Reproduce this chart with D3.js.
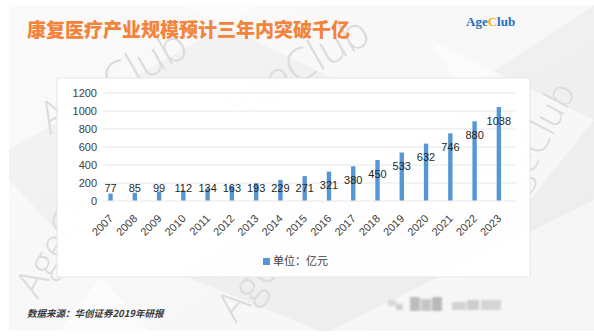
<!DOCTYPE html>
<html>
<head>
<meta charset="utf-8">
<script src="https://cdn.jsdelivr.net/npm/d3@7"></script>
<style>
  html, body { margin: 0; padding: 0; background: #ffffff; }
  svg { display: block; }
</style>
</head>
<body>
<svg id="chart" width="594" height="336"></svg>
<script>
// Rehabilitation market size, 100 million yuan
const years = ["2007","2008","2009","2010","2011","2012","2013","2014","2015",
               "2016","2017","2018","2019","2020","2021","2022","2023"];
const marketSize = [77, 85, 99, 112, 134, 163, 193, 229, 271, 321, 380, 450, 533, 632, 746, 880, 1038];
const yTicks = [0, 200, 400, 600, 800, 1000, 1200];
const titleText = "康复医疗产业规模预计三年内突破千亿";
const legendText = "单位：亿元";
const sourceText = "数据来源：华创证券2019年研报";

const W = 594, H = 336;
const svg = d3.select("#chart");
const defs = svg.append("defs");

// slide background
const bg = defs.append("linearGradient").attr("id", "bgGrad")
  .attr("x1", 0).attr("y1", 0).attr("x2", 1).attr("y2", 1);
bg.append("stop").attr("offset", "0%").attr("stop-color", "#f4f4f4");
bg.append("stop").attr("offset", "100%").attr("stop-color", "#ececec");
defs.append("filter").attr("id", "soft").append("feGaussianBlur").attr("stdDeviation", 1.1);

svg.append("rect").attr("x", 9).attr("y", 5).attr("width", W - 9).attr("height", 326)
  .attr("fill", "url(#bgGrad)");

// pale facets across the slide
const facets = [
  [[9,5],[260,5],[9,150]],
  [[180,5],[594,5],[420,120]],
  [[9,180],[150,331],[9,331]],
  [[330,331],[594,200],[594,331]],
  [[430,40],[594,120],[530,200]],
  [[120,250],[320,331],[60,331]]
];
svg.append("g").selectAll("polygon").data(facets).join("polygon")
  .attr("points", d => d.map(p => p.join(",")).join(" "))
  .attr("fill", "#ffffff").attr("opacity", 0.5);

// brand watermarks
const marks = [
  {x: 50, y: 135, r: -30, s: 44},
  {x: 232, y: 122, r: -30, s: 44},
  {x: 512, y: 212, r: -62, s: 37},
  {x: 38, y: 300, r: -60, s: 40},
  {x: 236, y: 324, r: -50, s: 42}
];
const wm = svg.append("g");
wm.selectAll("text").data(marks).join("text")
  .attr("transform", d => `translate(${d.x},${d.y}) rotate(${d.r})`)
  .attr("font-family", "'Open Sans', 'DejaVu Sans', sans-serif")
  .attr("font-weight", 300)
  .attr("font-size", d => d.s)
  .attr("fill", "#dcdcdc")
  .text("AgeClub");

// title
svg.append("text")
  .attr("x", 27).attr("y", 37)
  .attr("font-family", "'Noto Sans CJK SC', sans-serif")
  .attr("font-weight", 900)
  .attr("font-size", 19)
  .attr("fill", "#f4833b")
  .text(titleText);

// logo
const logo = svg.append("text")
  .attr("x", 466).attr("y", 26)
  .attr("font-family", "'Liberation Serif', 'DejaVu Serif', serif")
  .attr("font-weight", 700)
  .attr("font-size", 13);
logo.append("tspan").attr("fill", "#1f6fbf").text("Age");
logo.append("tspan").attr("fill", "#f5b50a").text("C");
logo.append("tspan").attr("fill", "#1f6fbf").text("lub");

// chart panel
svg.append("rect")
  .attr("x", 57).attr("y", 78).attr("width", 473).attr("height", 199)
  .attr("fill", "#ffffff").attr("fill-opacity", 0.94)
  .attr("stroke", "#e6e6e6").attr("stroke-width", 1);

// scales
const y = d3.scaleLinear().domain([0, 1200]).range([200.5, 92.5]);
const x = d3.scaleBand().domain(years).range([98.4, 511]).paddingInner(0.82).paddingOuter(0.41);

// gridlines via axis
const grid = svg.append("g").attr("transform", "translate(103,0)")
  .call(d3.axisLeft(y).tickValues(yTicks).tickSize(-413).tickFormat(""));
grid.select(".domain").remove();
grid.selectAll(".tick line").attr("stroke", "#e8e8e8").attr("stroke-width", 1);

// y tick labels
const yAxis = svg.append("g").attr("transform", "translate(97,0)")
  .call(d3.axisLeft(y).tickValues(yTicks).tickFormat(d3.format("d")).tickSize(0).tickPadding(0));
yAxis.select(".domain").remove();
yAxis.selectAll("text")
  .attr("font-family", "'Liberation Sans', Arial, sans-serif")
  .attr("font-size", 11).attr("fill", "#404040");

// bars
const data = years.map((yr, i) => ({year: yr, value: marketSize[i]}));
svg.append("g").selectAll("rect").data(data).join("rect")
  .attr("x", d => x(d.year))
  .attr("width", x.bandwidth())
  .attr("y", d => y(d.value))
  .attr("height", d => y(0) - y(d.value))
  .attr("fill", "#5596d4");

// value labels
svg.append("g").selectAll("text").data(data).join("text")
  .attr("x", d => x(d.year) + x.bandwidth() / 2)
  .attr("y", d => Math.min(y(d.value) + 13.8, 188))
  .attr("dy", "0.35em")
  .attr("text-anchor", "middle")
  .attr("font-family", "'Liberation Sans', Arial, sans-serif")
  .attr("font-size", 11)
  .attr("fill", "#262626")
  .text(d => d.value);

// x axis labels
const xAxis = svg.append("g").attr("transform", "translate(0,200.5)")
  .call(d3.axisBottom(x).tickSize(0).tickPadding(0));
xAxis.select(".domain").remove();
xAxis.selectAll("text")
  .attr("font-family", "'Liberation Sans', Arial, sans-serif")
  .attr("font-size", 11).attr("fill", "#404040")
  .attr("text-anchor", "end")
  .attr("dy", "0.35em")
  .attr("transform", "translate(0.5,16) rotate(-45)");

// legend
svg.append("rect").attr("x", 263).attr("y", 258).attr("width", 7).attr("height", 7)
  .attr("fill", "#5596d4");
svg.append("text").attr("x", 273).attr("y", 261.5).attr("dy", "0.35em")
  .attr("font-family", "'Noto Sans CJK SC', sans-serif")
  .attr("font-size", 11).attr("fill", "#404040")
  .text(legendText);

// source note
svg.append("text").attr("x", 27).attr("y", 317)
  .attr("font-family", "'Noto Sans CJK SC', sans-serif")
  .attr("font-weight", 700).attr("font-style", "italic")
  .attr("font-size", 9.5).attr("fill", "#3a3a3a")
  .text(sourceText);

// blurred handle in the corner
const blocks = [
  {x: 388, y: 300, w: 8, h: 6, c: "#d8d8d8"},
  {x: 396, y: 304, w: 7, h: 6, c: "#cfcfcf"},
  {x: 410, y: 297, w: 10, h: 14, c: "#bdbdbd"},
  {x: 421, y: 299, w: 10, h: 12, c: "#c6c6c6"},
  {x: 432, y: 297, w: 10, h: 14, c: "#b9b9b9"},
  {x: 452, y: 302, w: 14, h: 8, c: "#d2d2d2"},
  {x: 467, y: 300, w: 12, h: 10, c: "#cdcdcd"},
  {x: 481, y: 300, w: 20, h: 10, c: "#d5d5d5"}
];
svg.append("g").attr("filter", "url(#soft)")
  .selectAll("rect").data(blocks).join("rect")
  .attr("x", d => d.x).attr("y", d => d.y).attr("width", d => d.w).attr("height", d => d.h)
  .attr("fill", d => d.c);
</script>
</body>
</html>
